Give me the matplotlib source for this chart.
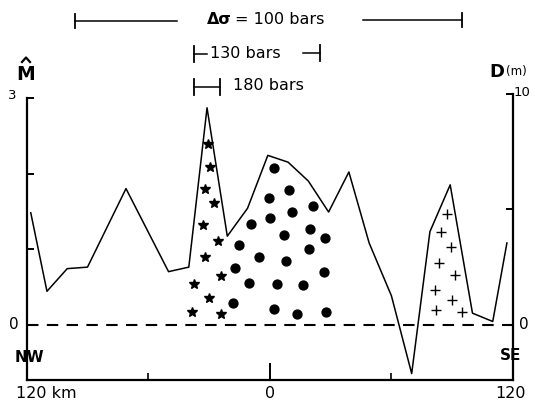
import matplotlib
matplotlib.use("Agg")
import matplotlib.pyplot as plt
from matplotlib.transforms import blended_transform_factory
from matplotlib.lines import Line2D

plt.rcParams["font.family"] = ["DejaVu Sans"]

# Profile of M-hat along the NW-SE section (km from centre)
distance_km = [-118, -110, -100, -90, -71, -50, -40, -31, -21, -11, -1, 9, 19,
               29, 39, 49, 60, 70, 79, 89, 100, 110, 117]
m_hat = [1.48, 0.44, 0.74, 0.76, 1.80, 0.70, 0.76, 2.87, 1.17, 1.54, 2.24,
         2.15, 1.90, 1.49, 2.02, 1.08, 0.38, -0.65, 1.23, 1.85, 0.15, 0.04, 1.08]

# Symbol fields under the profile
star_km = [-30.5, -29.6, -32.1, -27.7, -33.2, -25.8, -32.1, -37.5, -24.0, -30.0, -38.2, -24.0]
star_m = [2.39, 2.09, 1.80, 1.61, 1.32, 1.10, 0.89, 0.53, 0.64, 0.35, 0.16, 0.14]

dot_km = [2.0, 9.4, -0.3, 10.7, 21.1, -9.5, 0.0, 6.8, 19.9, 27.0, -15.2, -5.3,
          8.2, 19.1, -17.4, -10.2, 3.5, 16.4, 26.5, -18.1, 2.0, 13.3, 27.8]
dot_m = [2.07, 1.78, 1.67, 1.49, 1.57, 1.33, 1.41, 1.18, 1.26, 1.14, 1.05, 0.89,
         0.84, 1.00, 0.75, 0.55, 0.54, 0.52, 0.69, 0.28, 0.21, 0.14, 0.17]

plus_km = [87.6, 84.3, 89.4, 83.3, 91.5, 81.3, 89.9, 81.8, 94.8]
plus_m = [1.47, 1.23, 1.02, 0.81, 0.65, 0.46, 0.32, 0.19, 0.16]

# Stress-drop scale bars (km extents)
bar_100 = (-96, 95)
bar_100_gap = (-46, 46)
bar_130 = (-37.5, 24.7)
bar_130_gap = (-31, 16.3)
bar_180 = (-37.5, -24.7)

x_range = (-120, 120)
m_top = 3
m_ylim = (-0.735, 3.053)
d_top = 10
d_ylim = (m_ylim[0] / m_ylim[1] * d_top, d_top)

W, H = 535, 407
fig = plt.figure(figsize=(W / 100, H / 100), dpi=100)
ax = fig.add_axes([26.7 / W, (H - 380) / H, (513 - 26.7) / W, (380 - 94) / H])


def fp(x, y):
    return x / W, 1 - y / H


ax.set_xlim(*x_range)
ax.set_ylim(*m_ylim)

# profile, zero line and symbols
ax.plot(distance_km, m_hat, color="black", lw=1.1, clip_on=False)
ax.plot(x_range, [0, 0], color="black", lw=1.5, dashes=(5.5, 4), clip_on=False)
ax.plot(star_km, star_m, ls="none", marker="*", ms=7, color="black")
ax.plot(dot_km, dot_m, ls="none", marker="o", ms=6.4, color="black")
ax.plot(plus_km, plus_m, ls="none", marker="+", ms=7, mew=1.0, color="black")

# spines
ax.spines["top"].set_visible(False)
ax.spines["right"].set_visible(False)
ax.spines["left"].set_bounds(m_ylim[0], m_top)
for s in ("left", "bottom"):
    ax.spines[s].set_linewidth(1.6)

ax.set_yticks([0, 1, 2, 3])
ax.set_yticklabels([])
ax.tick_params(axis="y", direction="in", length=5, width=1.4)
ax.set_xticks([0])
ax.set_xticks([-60, 60], minor=True)
ax.set_xticklabels([])
ax.tick_params(axis="x", which="major", direction="in", length=12, width=1.4)
ax.tick_params(axis="x", which="minor", direction="in", length=5, width=1.2)

# right-hand D axis
ax2 = ax.twinx()
ax2.set_ylim(*d_ylim)
for s in ("top", "left", "bottom"):
    ax2.spines[s].set_visible(False)
ax2.spines["right"].set_bounds(d_ylim[0], d_top)
ax2.spines["right"].set_linewidth(1.6)
ax2.set_yticks([0, 5, 10])
ax2.set_yticklabels([])
ax2.tick_params(axis="y", direction="in", length=5, width=1.4)

# axis value labels
yl = blended_transform_factory(ax.transAxes, ax.transData)
ax.text(-0.022, 3.03, "3", transform=yl, ha="right", va="center", fontsize=9.5)
ax.text(-0.016, 0, "0", transform=yl, ha="right", va="center", fontsize=11)
yr = blended_transform_factory(ax2.transAxes, ax2.transData)
ax2.text(1.002, 10.05, "10", transform=yr, ha="left", va="center", fontsize=9.5)
ax2.text(1.012, 0, "0", transform=yr, ha="left", va="center", fontsize=11)

fig.text(*fp(15.5, 394), "120 km", ha="left", va="center", fontsize=11.5)
fig.text(*fp(270, 393), "0", ha="center", va="center", fontsize=11.5)
fig.text(*fp(526, 393), "120", ha="right", va="center", fontsize=11.5)
fig.text(*fp(29, 358), "NW", ha="center", va="center", fontsize=11, fontweight="bold")
fig.text(*fp(511, 355), "SE", ha="center", va="center", fontsize=11, fontweight="bold")

# axis titles
fig.text(*fp(26, 74), "M", ha="center", va="center", fontsize=13.5, fontweight="bold")
fig.add_artist(Line2D([22 / W, 26 / W, 30 / W],
                      [1 - 62 / H, 1 - 57.5 / H, 1 - 62 / H], color="black", lw=1.6))
fig.text(*fp(497, 72), "D", ha="center", va="center", fontsize=13, fontweight="bold")
fig.text(*fp(506, 71), "(m)", ha="left", va="center", fontsize=8.5)

# stress-drop scale bars
bt = blended_transform_factory(ax.transData, fig.transFigure)


def hbar(x0, x1, y, left_tick=True, right_tick=True, half=7):
    yf = 1 - y / H
    ax.plot([x0, x1], [yf, yf], color="black", lw=1.1, transform=bt, clip_on=False)
    dy = half / H
    if left_tick:
        ax.plot([x0, x0], [yf - dy, yf + dy], color="black", lw=1.3, transform=bt, clip_on=False)
    if right_tick:
        ax.plot([x1, x1], [yf - dy, yf + dy], color="black", lw=1.3, transform=bt, clip_on=False)


hbar(bar_100[0], bar_100_gap[0], 21, right_tick=False)
hbar(bar_100_gap[1], bar_100[1], 20, left_tick=False)
hbar(bar_130[0], bar_130_gap[0], 54, right_tick=False, half=8)
hbar(bar_130_gap[1], bar_130[1], 53, left_tick=False, half=8)
hbar(bar_180[0], bar_180[1], 87, half=8)

fig.text(*fp(232, 20), "Δσ", ha="right", va="center", fontsize=11.5, fontweight="bold")
fig.text(*fp(235, 20), "= 100 bars", ha="left", va="center", fontsize=11.5)
fig.text(*fp(210, 53), "130 bars", ha="left", va="center", fontsize=11.5)
fig.text(*fp(233, 86), "180 bars", ha="left", va="center", fontsize=11.5)

fig.savefig("out.png", dpi=100)
